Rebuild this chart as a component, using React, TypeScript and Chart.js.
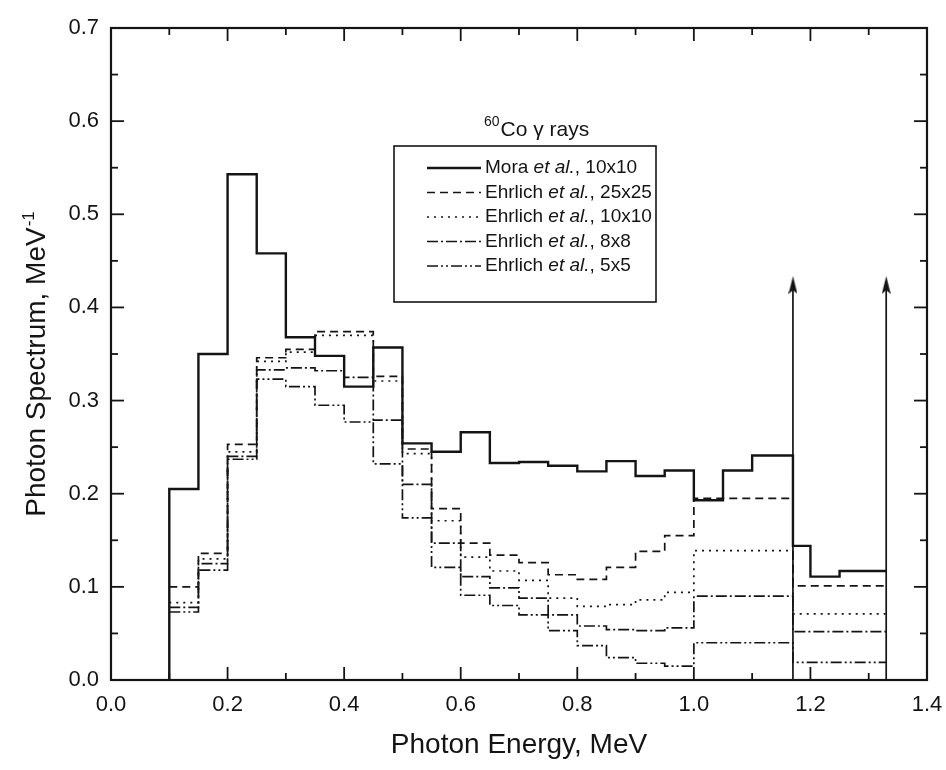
import React, { useEffect, useRef } from "react";
import { Chart, registerables } from "chart.js";

Chart.register(...registerables);

const FONT = '"Liberation Sans", Arial, Helvetica, sans-serif';
const INK = "#141414";

// Histogram bin edges (MeV)
const moraEdges = [0.1, 0.15, 0.2, 0.25, 0.3, 0.35, 0.4, 0.45, 0.5, 0.55, 0.6, 0.65, 0.7, 0.75, 0.8, 0.85, 0.9, 0.95, 1.0, 1.05, 1.1, 1.17, 1.2, 1.25, 1.33];
const ehrlichEdges = [0.1, 0.15, 0.2, 0.25, 0.3, 0.35, 0.4, 0.45, 0.5, 0.55, 0.6, 0.65, 0.7, 0.75, 0.8, 0.85, 0.9, 0.95, 1.0, 1.17, 1.33];

// Photon spectrum values per bin (MeV^-1)
const mora10 = [0.205, 0.35, 0.543, 0.458, 0.368, 0.348, 0.315, 0.357, 0.254, 0.245, 0.266, 0.233, 0.234, 0.23, 0.224, 0.235, 0.219, 0.225, 0.193, 0.225, 0.241, 0.144, 0.111, 0.117];
const ehrlich25 = [0.1, 0.136, 0.253, 0.346, 0.355, 0.374, 0.374, 0.326, 0.248, 0.184, 0.147, 0.134, 0.126, 0.113, 0.108, 0.121, 0.138, 0.155, 0.195, 0.101];
const ehrlich10 = [0.083, 0.13, 0.245, 0.342, 0.352, 0.37, 0.37, 0.321, 0.243, 0.171, 0.132, 0.117, 0.107, 0.088, 0.079, 0.081, 0.086, 0.094, 0.139, 0.071];
const ehrlich8 = [0.078, 0.125, 0.24, 0.333, 0.335, 0.332, 0.325, 0.279, 0.21, 0.147, 0.111, 0.099, 0.088, 0.07, 0.058, 0.054, 0.053, 0.056, 0.09, 0.052];
const ehrlich5 = [0.073, 0.118, 0.237, 0.323, 0.315, 0.295, 0.277, 0.232, 0.174, 0.121, 0.091, 0.08, 0.07, 0.053, 0.037, 0.024, 0.018, 0.015, 0.04, 0.019];

// Legend texts
const authors = ["Mora", "Ehrlich", "Ehrlich", "Ehrlich", "Ehrlich"];
const fieldSizes = ["10x10", "25x25", "10x10", "8x8", "5x5"];

// 60Co gamma lines (MeV) and arrow height
const lineEnergies = [1.17, 1.33];
const arrowTop = 0.424;

// Axis ranges and titles
const xMin = 0;
const xMax = 1.4;
const xStep = 0.2;
const yMin = 0;
const yMax = 0.7;
const yStep = 0.1;
const xTitle = "Photon Energy, MeV";
const yTitle = "Photon Spectrum, MeV";
const yTitleSup = "-1";

function histo(edges: number[], vals: number[], fromZero = false) {
  const pts: { x: number; y: number }[] = [];
  if (fromZero) pts.push({ x: edges[0], y: 0 });
  vals.forEach((v, i) => pts.push({ x: edges[i], y: v }));
  pts.push({ x: edges[edges.length - 1], y: vals[vals.length - 1] });
  return pts;
}

const framePlugin = {
  id: "frameTicks",
  afterDatasetsDraw(chart: any) {
    const { ctx, chartArea: ca, scales } = chart;
    const x = scales.x;
    const y = scales.y;
    const MAJ = 13;
    const MIN = 7;
    ctx.save();
    ctx.strokeStyle = INK;
    ctx.setLineDash([]);
    const seg = (x1: number, y1: number, x2: number, y2: number) => {
      ctx.beginPath();
      ctx.moveTo(x1, y1);
      ctx.lineTo(x2, y2);
      ctx.stroke();
    };
    ctx.lineWidth = 1.8;
    const xv = x.ticks.map((t: any) => t.value);
    xv.forEach((v: number, i: number) => {
      const p = x.getPixelForValue(v);
      seg(p, ca.bottom, p, ca.bottom - MAJ);
      seg(p, ca.top, p, ca.top + MAJ);
      if (i < xv.length - 1) {
        const m = x.getPixelForValue((v + xv[i + 1]) / 2);
        seg(m, ca.bottom, m, ca.bottom - MIN);
        seg(m, ca.top, m, ca.top + MIN);
      }
    });
    const yv = y.ticks.map((t: any) => t.value);
    yv.forEach((v: number, i: number) => {
      const p = y.getPixelForValue(v);
      seg(ca.left, p, ca.left + MAJ, p);
      seg(ca.right, p, ca.right - MAJ, p);
      if (i < yv.length - 1) {
        const m = y.getPixelForValue((v + yv[i + 1]) / 2);
        seg(ca.left, m, ca.left + MIN, m);
        seg(ca.right, m, ca.right - MIN, m);
      }
    });
    ctx.lineWidth = 2.2;
    ctx.strokeRect(ca.left, ca.top, ca.right - ca.left, ca.bottom - ca.top);

    // Y axis title with superscript
    ctx.fillStyle = INK;
    ctx.textBaseline = "alphabetic";
    ctx.textAlign = "left";
    const mainFont = `28px ${FONT}`;
    const supFont = `17px ${FONT}`;
    ctx.font = mainFont;
    const wMain = ctx.measureText(yTitle).width;
    ctx.font = supFont;
    const wSup = ctx.measureText(yTitleSup).width;
    const total = wMain + 1 + wSup;
    ctx.translate(45, (ca.top + ca.bottom) / 2 + 10);
    ctx.rotate(-Math.PI / 2);
    ctx.font = mainFont;
    ctx.fillText(yTitle, -total / 2, 0);
    ctx.font = supFont;
    ctx.fillText(yTitleSup, -total / 2 + wMain + 1, -11);
    ctx.restore();
  },
};

const legendPlugin = {
  id: "customLegend",
  afterDraw(chart: any) {
    const { ctx, chartArea: ca } = chart;
    ctx.save();
    // Annotation "60Co γ rays"
    let ax = ca.left + 373;
    const ab = ca.top + 108;
    ctx.fillStyle = INK;
    ctx.textBaseline = "alphabetic";
    ctx.textAlign = "left";
    ctx.font = `14px ${FONT}`;
    ctx.fillText("60", ax, ab - 10);
    ax += ctx.measureText("60").width + 1;
    ctx.font = `21px ${FONT}`;
    ctx.fillText("Co γ rays", ax, ab);

    // Legend box
    const left = ca.left + 283;
    const top = ca.top + 118;
    const w = 262;
    const h = 156;
    ctx.fillStyle = "#ffffff";
    ctx.fillRect(left, top, w, h);
    ctx.strokeStyle = INK;
    ctx.lineWidth = 1.6;
    ctx.setLineDash([]);
    ctx.strokeRect(left, top, w, h);
    authors.forEach((a, i) => {
      const ds = chart.data.datasets[i];
      const yy = top + 22 + i * 24.5;
      ctx.strokeStyle = INK;
      ctx.lineWidth = ds.borderWidth;
      ctx.setLineDash(ds.borderDash || []);
      ctx.beginPath();
      ctx.moveTo(left + 33, yy);
      ctx.lineTo(left + 87, yy);
      ctx.stroke();
      ctx.setLineDash([]);
      ctx.fillStyle = INK;
      ctx.textBaseline = "middle";
      let tx = left + 91;
      ctx.font = `19px ${FONT}`;
      ctx.fillText(a + " ", tx, yy);
      tx += ctx.measureText(a + " ").width;
      ctx.font = `italic 19px ${FONT}`;
      ctx.fillText("et al.", tx, yy);
      tx += ctx.measureText("et al.").width;
      ctx.font = `19px ${FONT}`;
      ctx.fillText(", " + fieldSizes[i], tx, yy);
    });
    ctx.restore();
  },
};

export default function App() {
  const ref = useRef<HTMLCanvasElement>(null);
  useEffect(() => {
    const canvas = ref.current;
    if (!canvas) return;
    const head = document.createElement("canvas");
    head.width = 9;
    head.height = 18;
    const hc = head.getContext("2d")!;
    hc.fillStyle = INK;
    hc.beginPath();
    hc.moveTo(4.5, 0);
    hc.lineTo(9, 18);
    hc.lineTo(4.5, 14);
    hc.lineTo(0, 18);
    hc.closePath();
    hc.fill();

    const base = {
      borderColor: INK,
      backgroundColor: INK,
      pointRadius: 0,
      stepped: true,
      fill: false,
      tension: 0,
    };
    const series = [
      { data: histo(moraEdges, mora10, true), borderWidth: 2.4, borderDash: [] as number[] },
      { data: histo(ehrlichEdges, ehrlich25), borderWidth: 1.7, borderDash: [8, 5] },
      { data: histo(ehrlichEdges, ehrlich10), borderWidth: 1.7, borderDash: [2, 5] },
      { data: histo(ehrlichEdges, ehrlich8), borderWidth: 1.7, borderDash: [11, 3, 2, 3] },
      { data: histo(ehrlichEdges, ehrlich5), borderWidth: 1.7, borderDash: [11, 3, 2, 3, 2, 3] },
    ];
    const datasets: any[] = series.map((s, i) => ({
      ...base,
      ...s,
      label: `${authors[i]} et al., ${fieldSizes[i]}`,
    }));
    lineEnergies.forEach((e) => {
      datasets.push({
        ...base,
        stepped: false,
        label: "",
        data: [
          { x: e, y: 0 },
          { x: e, y: arrowTop },
        ],
        borderWidth: 1.7,
        pointRadius: [0, 6],
        pointStyle: head,
      });
    });

    const chart = new Chart(canvas, {
      type: "line",
      data: { datasets },
      options: {
        animation: false,
        responsive: true,
        maintainAspectRatio: false,
        events: [],
        layout: { padding: { left: 0, top: 28, right: 19, bottom: 0 } },
        plugins: {
          legend: { display: false },
          tooltip: { enabled: false },
        },
        scales: {
          x: {
            type: "linear",
            min: xMin,
            max: xMax,
            grid: { display: false, drawTicks: false },
            border: { display: false },
            ticks: {
              stepSize: xStep,
              padding: 12,
              color: INK,
              autoSkip: false,
              maxRotation: 0,
              font: { family: FONT, size: 22 },
              callback: (v: any) => Number(v).toFixed(1),
            },
            title: {
              display: true,
              text: xTitle,
              color: INK,
              font: { family: FONT, size: 28 },
              padding: { top: 0, bottom: 8 },
            },
            afterFit: (s: any) => {
              s.height = 90;
              s.paddingLeft = 0;
              s.paddingRight = 0;
            },
          },
          y: {
            type: "linear",
            min: yMin,
            max: yMax,
            grid: { display: false, drawTicks: false },
            border: { display: false },
            ticks: {
              stepSize: yStep,
              padding: 12,
              color: INK,
              font: { family: FONT, size: 22 },
              callback: (v: any) => Number(v).toFixed(1),
            },
            title: { display: false },
            afterFit: (s: any) => {
              s.width = 111;
              s.paddingTop = 0;
              s.paddingBottom = 0;
            },
          },
        },
      },
      plugins: [framePlugin, legendPlugin],
    } as any);
    return () => chart.destroy();
  }, []);

  return (
    <div style={{ position: "fixed", left: 0, top: 0, width: 946, height: 770, background: "#ffffff" }}>
      <canvas ref={ref} />
    </div>
  );
}
